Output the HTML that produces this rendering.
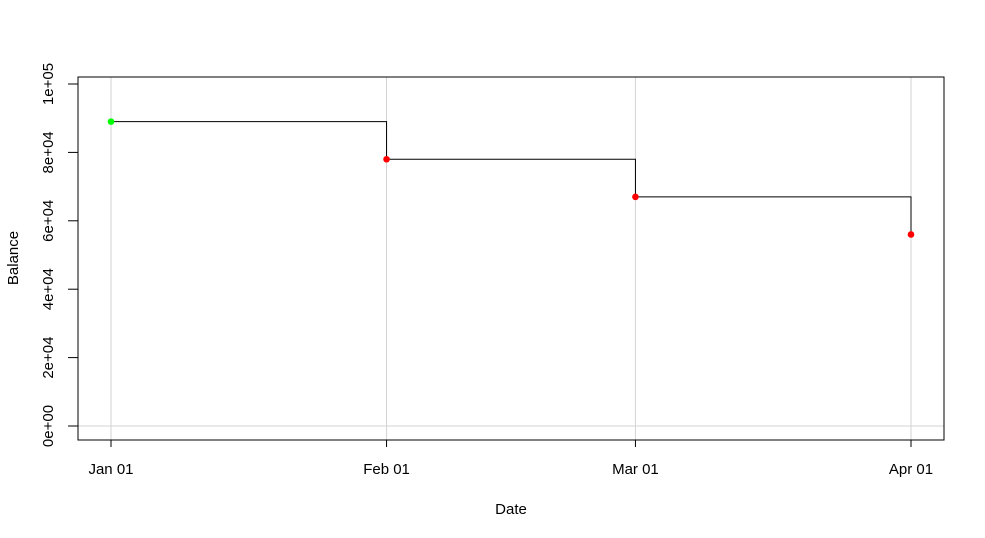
<!DOCTYPE html>
<html><head><meta charset="utf-8"><style>body{margin:0;background:#fff}svg{display:block;font-family:"Liberation Sans",Arial,sans-serif}</style></head>
<body>
<svg id="c" width="985" height="538"></svg>
<script>
const dayOffsets=[0,31,59,90];
const xTickLabels=["Jan 01","Feb 01","Mar 01","Apr 01"];
const balances=[89000,78000,67000,56000];
const yTicks=[0,20000,40000,60000,80000,100000];
const yTickLabels=["0e+00","2e+04","4e+04","6e+04","8e+04","1e+05"];
const ns="http://www.w3.org/2000/svg",svg=document.getElementById('c');
const X=d=>111+d*(800/90), Y=v=>426-v*(342/100000);
function mk(t,a,p){const e=document.createElementNS(ns,t);for(const k in a)e.setAttribute(k,a[k]);(p||svg).appendChild(e);return e;}
dayOffsets.forEach(d=>{const g=mk('line',{x1:X(d),x2:X(d),y1:77,y2:440,stroke:'#d3d3d3'});

});
const hg=mk('line',{x1:78,x2:944,y1:Y(0),y2:Y(0),stroke:'#d3d3d3'});


let p=`M${X(dayOffsets[0])},${Y(balances[0])}`;
for(let i=1;i<balances.length;i++){p+=` H${X(dayOffsets[i])} V${Y(balances[i])}`;}
const sl=mk('path',{d:p,fill:'none',stroke:'#000','stroke-width':1});


balances.forEach((v,i)=>{const c=mk('circle',{cx:X(dayOffsets[i]),cy:Y(v),r:3.3,fill:i==0?'#00ff00':'#ff0000'});

});
const b=mk('rect',{x:78,y:77,width:866,height:363,fill:'none',stroke:'#000'});


dayOffsets.forEach((d,i)=>{mk('line',{x1:X(d),x2:X(d),y1:440,y2:447,stroke:'#000'});
const t=mk('text',{x:X(d),y:474,'text-anchor':'middle','font-size':15});t.textContent=xTickLabels[i];

});
yTicks.forEach((v,i)=>{mk('line',{x1:68,x2:78,y1:Y(v),y2:Y(v),stroke:'#000'});
const t=mk('text',{x:53,y:Y(v),'text-anchor':'middle','font-size':15,transform:`rotate(-90 53 ${Y(v)})`});t.textContent=yTickLabels[i];

});
const xt=mk('text',{x:511,y:514,'text-anchor':'middle','font-size':15});xt.textContent='Date';


const yt=mk('text',{x:18,y:258,'text-anchor':'middle','font-size':15,transform:'rotate(-90 18 258)'});yt.textContent='Balance';


</script>
</body></html>
